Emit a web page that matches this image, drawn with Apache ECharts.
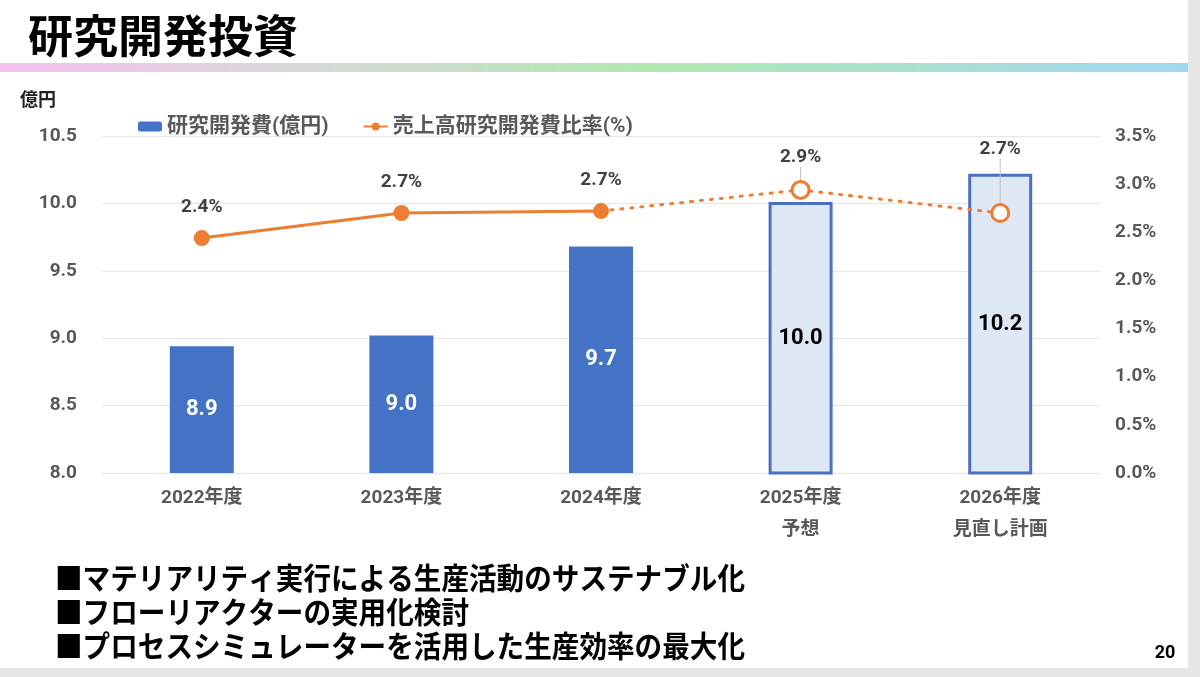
<!DOCTYPE html>
<html lang="ja">
<head>
  <meta charset="UTF-8">
  <title>研究開発投資</title>
  <style>
    body {
      margin: 0;
      padding: 0;
      background: #e6e6e6;
    }

    .slide {
      width: 1188px;
      height: 668px;
      background: #fff;
    }
  </style>
</head>
<body>
  <div class="slide" id="chart"></div>

  <script src="https://cdn.jsdelivr.net/npm/echarts@6/dist/echarts.min.js"></script>
  <script>
    var years = ['2022年度', '2023年度', '2024年度', '2025年度\n予想', '2026年度\n見直し計画'];
    var rdCost = [8.94, 9.02, 9.68, 10.01, 10.22];     // 研究開発費(億円)
    var rdRatio = [2.44, 2.70, 2.72, 2.94, 2.70];      // 売上高研究開発費比率(%)
    var actualCount = 3;                               // 実績は2024年度まで
    var bullets = [
      '■マテリアリティ実行による生産活動のサステナブル化',
      '■フローリアクターの実用化検討',
      '■プロセスシミュレーターを活用した生産効率の最大化'
    ];

    var FONT = 'Roboto, "Noto Sans CJK JP", sans-serif';
    var JP = '"Noto Sans CJK JP", sans-serif';
    var BLUE = '#4472C4';
    var ORANGE = '#ED7D31';
    var GRAY = '#595959';

    var chart = echarts.init(document.getElementById('chart'));

    var barData = rdCost.map(function (v, i) {
      if (i < actualCount) return v;
      return {
        value: v,
        itemStyle: { color: '#dee8f5', borderColor: '#4a70c2', borderWidth: 3 },
        label: { color: '#000' }
      };
    });

    var solidLine = rdRatio.map(function (v, i) { return i < actualCount ? v : '-'; });
    var dottedLine = rdRatio.map(function (v, i) {
      if (i < actualCount - 1) return '-';
      if (i === actualCount - 1) return { value: v, symbol: 'none', label: { show: false } };
      return v;
    });

    var ratioLabel = {
      show: true,
      position: 'top',
      distance: 13,
      color: '#404040',
      fontFamily: FONT,
      fontSize: 19,
      fontWeight: 'bold',
      formatter: function (p) { return p.value.toFixed(1) + '%'; }
    };

    var bulletTexts = bullets.map(function (t, i) {
      return {
        type: 'text',
        x: 55,
        y: 578 + i * 34,
        scaleX: 0.92,
        style: {
          text: t,
          fill: '#000',
          font: 'bold 30px ' + JP,
          textVerticalAlign: 'middle'
        }
      };
    });

    var option = {
      textStyle: { fontFamily: FONT },
      animation: false,
      graphic: [
        {
          type: 'text',
          x: 28,
          y: 36,
          style: {
            text: '研究開発投資',
            fill: '#000',
            font: 'bold 45px ' + JP,
            textVerticalAlign: 'middle'
          }
        },
        {
          type: 'rect',
          shape: { x: 0, y: 63, width: 1188, height: 9 },
          style: {
            fill: new echarts.graphic.LinearGradient(0, 0, 1, 0, [
              { offset: 0, color: '#f6c0f0' },
              { offset: 0.25, color: '#d8d8d8' },
              { offset: 0.55, color: '#b0e8b0' },
              { offset: 1, color: '#a0d8f2' }
            ])
          }
        },
        {
          type: 'text',
          x: 20,
          y: 99,
          style: {
            text: '億円',
            fill: '#222',
            font: 'bold 18px ' + JP,
            textVerticalAlign: 'middle'
          }
        },
        {
          type: 'text',
          x: 1165,
          y: 653,
          style: {
            text: '20',
            fill: '#000',
            font: 'bold 18px ' + FONT,
            textAlign: 'center',
            textVerticalAlign: 'middle'
          }
        }
      ].concat(bulletTexts),
      legend: {
        left: 133,
        top: 111,
        itemGap: 34,
        itemWidth: 24,
        itemHeight: 10,
        data: ['研究開発費(億円)', '売上高研究開発費比率(%)'],
        textStyle: { color: GRAY, fontSize: 21, fontWeight: 'bold', fontFamily: FONT }
      },
      grid: { left: 102, right: 88, top: 136, bottom: 195 },
      xAxis: {
        type: 'category',
        data: years,
        axisLine: { show: true, lineStyle: { color: '#e3e3e3' } },
        axisTick: { show: false },
        axisLabel: {
          color: GRAY,
          fontSize: 19,
          fontWeight: 'bold',
          lineHeight: 32,
          margin: 9,
          fontFamily: FONT
        }
      },
      yAxis: [
        {
          type: 'value',
          min: 8,
          max: 10.5,
          interval: 0.5,
          axisLine: { show: false },
          axisTick: { show: false },
          splitLine: { lineStyle: { color: '#e6e6e6' } },
          axisLabel: {
            color: GRAY,
            fontSize: 19,
            fontWeight: 'bold',
            margin: 25,
            formatter: function (v) { return v.toFixed(1); }
          }
        },
        {
          type: 'value',
          min: 0,
          max: 3.5,
          interval: 0.5,
          axisLine: { show: false },
          axisTick: { show: false },
          splitLine: { show: false },
          axisLabel: {
            color: GRAY,
            fontSize: 19,
            fontWeight: 'bold',
            margin: 15,
            formatter: function (v) { return v.toFixed(1) + '%'; }
          }
        }
      ],
      series: [
        {
          name: '研究開発費(億円)',
          type: 'bar',
          barWidth: 64,
          itemStyle: { color: BLUE },
          label: {
            show: true,
            position: 'inside',
            color: '#fff',
            fontSize: 22,
            fontWeight: 'bold',
            formatter: function (p) { return p.value.toFixed(1); }
          },
          data: barData
        },
        {
          name: '売上高研究開発費比率(%)',
          type: 'line',
          yAxisIndex: 1,
          symbol: 'circle',
          symbolSize: 16,
          lineStyle: { color: ORANGE, width: 3 },
          itemStyle: { color: ORANGE },
          label: ratioLabel,
          data: solidLine,
          z: 5
        },
        {
          name: '比率(見込み)',
          type: 'line',
          yAxisIndex: 1,
          symbol: 'circle',
          symbolSize: 17,
          lineStyle: { color: ORANGE, width: 3, type: [2, 8], cap: 'round' },
          itemStyle: { color: '#fff', borderColor: ORANGE, borderWidth: 3 },
          label: ratioLabel,
          labelLine: { show: true, lineStyle: { color: '#bfbfbf', width: 1 } },
          labelLayout: function (p) {
            if (p.dataIndex === 4) return { dy: -31 };
          },
          data: dottedLine,
          z: 4
        }
      ]
    };

    chart.setOption(option);
  </script>
</body>
</html>
